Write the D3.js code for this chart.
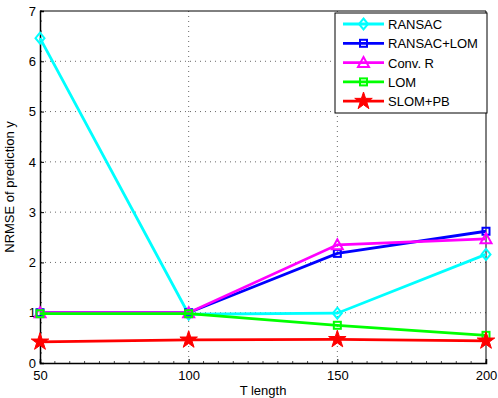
<!DOCTYPE html>
<html>
<head>
<meta charset="utf-8">
<script src="https://cdn.jsdelivr.net/npm/d3@7"></script>
<style>
  body { margin: 0; background: #fff; }
  text { font-family: "Liberation Sans", Arial, sans-serif; }
</style>
</head>
<body>
<svg id="chart"></svg>
<script>
let tLength = [50, 100, 150, 200];
let ransac = [6.46, 0.97, 0.99, 2.16];
let ransacLom = [1.0, 1.0, 2.18, 2.62];
let convR = [1.0, 1.0, 2.35, 2.47];
let lom = [0.98, 0.98, 0.75, 0.55];
let slomPb = [0.42, 0.46, 0.47, 0.44];
let xTicks = [50, 100, 150, 200];
let yTicks = [0, 1, 2, 3, 4, 5, 6, 7];

let series = [
  { name: "RANSAC", values: ransac, color: "#00ffff", marker: "diamond" },
  { name: "RANSAC+LOM", values: ransacLom, color: "#0000ff", marker: "square" },
  { name: "Conv. R", values: convR, color: "#ff00ff", marker: "triangle" },
  { name: "LOM", values: lom, color: "#00ff00", marker: "square" },
  { name: "SLOM+PB", values: slomPb, color: "#ff0000", marker: "star" }
];

let svg = d3.select("#chart"),
  margin = { top: 11, right: 12, bottom: 35, left: 40 },
  width = 498 - margin.left - margin.right,
  height = 398 - margin.top - margin.bottom;

svg.attr("width", 498).attr("height", 398);

let xScale = d3.scaleLinear().domain([50, 200]).range([0, width]),
  yScale = d3.scaleLinear().domain([0, 7]).range([height, 0]);

let g = svg.append("g").attr("transform", "translate(" + margin.left + "," + margin.top + ")");

// grid
g.selectAll(".gx")
  .data(xTicks.slice(1, -1))
  .enter()
  .append("line")
  .attr("x1", (d) => xScale(d))
  .attr("x2", (d) => xScale(d))
  .attr("y1", 0)
  .attr("y2", height)
  .attr("stroke", "#444")
  .attr("stroke-width", 0.8)
  .attr("stroke-dasharray", "1,4");

g.selectAll(".gy")
  .data(yTicks.slice(1, -1))
  .enter()
  .append("line")
  .attr("x1", 0)
  .attr("x2", width)
  .attr("y1", (d) => yScale(d))
  .attr("y2", (d) => yScale(d))
  .attr("stroke", "#444")
  .attr("stroke-width", 0.8)
  .attr("stroke-dasharray", "1,4");

// minor ticks
let yMinor = d3.range(0, 7.001, 0.2);
g.selectAll(".my")
  .data(yMinor)
  .enter()
  .append("line")
  .attr("x1", 0)
  .attr("x2", 2)
  .attr("y1", (d) => yScale(d))
  .attr("y2", (d) => yScale(d))
  .attr("stroke", "#000")
  .attr("stroke-width", 0.7);

let xMinor = d3.range(50, 200.001, 5);
g.selectAll(".mx")
  .data(xMinor)
  .enter()
  .append("line")
  .attr("x1", (d) => xScale(d))
  .attr("x2", (d) => xScale(d))
  .attr("y1", height)
  .attr("y2", height - 2)
  .attr("stroke", "#000")
  .attr("stroke-width", 0.7);

// axes
g.append("g")
  .attr("transform", "translate(0," + height + ")")
  .call(d3.axisBottom(xScale).tickValues(xTicks).tickFormat(d3.format("d")).tickSize(-4).tickPadding(8))
  .call((a) => a.select(".domain").attr("stroke-width", 1.5))
  .call((a) => a.selectAll("text").attr("font-size", "13px").attr("fill", "#000"))
  .append("text")
  .attr("x", width / 2)
  .attr("y", 32)
  .attr("text-anchor", "middle")
  .attr("fill", "black")
  .attr("font-size", "13px")
  .text("T length");

g.append("g")
  .call(d3.axisLeft(yScale).tickValues(yTicks).tickFormat(d3.format("d")).tickSize(-4).tickPadding(4))
  .call((a) => a.select(".domain").attr("stroke-width", 1.5))
  .call((a) => a.selectAll("text").attr("font-size", "13px").attr("fill", "#000"))
  .append("text")
  .attr("transform", "rotate(-90)")
  .attr("x", -height / 2)
  .attr("y", -26)
  .attr("text-anchor", "middle")
  .attr("fill", "black")
  .attr("font-size", "13px")
  .text("NRMSE of prediction y");

// top and right border
g.append("path")
  .attr("d", "M0,0H" + width + "V" + height)
  .attr("fill", "none")
  .attr("stroke", "#000")
  .attr("stroke-width", 1);

let line = d3
  .line()
  .x((d, i) => xScale(tLength[i]))
  .y((d) => yScale(d));

function drawMarker(sel, type, color) {
  if (type === "diamond") {
    sel.append("path").attr("d", "M0,-5.5L4.5,0L0,5.5L-4.5,0Z").attr("fill", "none").attr("stroke", color).attr("stroke-width", 2);
  } else if (type === "square") {
    sel.append("rect").attr("x", -3.5).attr("y", -3.5).attr("width", 7).attr("height", 7)
      .attr("fill", "none").attr("stroke", color).attr("stroke-width", 2);
  } else if (type === "triangle") {
    sel.append("path").attr("d", "M0,-5.5L5.5,4.5L-5.5,4.5Z").attr("fill", "none").attr("stroke", color).attr("stroke-width", 2);
  } else if (type === "star") {
    sel.append("path").attr("d", d3.symbol(d3.symbolStar, 95)()).attr("fill", color).attr("stroke", color).attr("stroke-width", 1);
  }
}

series.forEach((s) => {
  g.append("path")
    .datum(s.values)
    .attr("d", line)
    .attr("fill", "none")
    .attr("stroke", s.color)
    .attr("stroke-width", 2.8);

  s.values.forEach((v, i) => {
    let m = g.append("g").attr("transform", "translate(" + xScale(tLength[i]) + "," + yScale(v) + ")");
    drawMarker(m, s.marker, s.color);
  });
});

// legend
let lg = svg.append("g").attr("transform", "translate(335,13)");
lg.append("rect")
  .attr("width", 152)
  .attr("height", 100)
  .attr("fill", "#fff")
  .attr("stroke", "#000")
  .attr("stroke-width", 1);

series.forEach((s, i) => {
  let row = lg.append("g").attr("transform", "translate(0," + (11 + i * 19.3) + ")");
  row.append("line")
    .attr("x1", 8)
    .attr("x2", 49)
    .attr("stroke", s.color)
    .attr("stroke-width", 2.8);
  let m = row.append("g").attr("transform", "translate(28.5,0)");
  drawMarker(m, s.marker, s.color);
  row.append("text")
    .attr("x", 53)
    .attr("y", 5)
    .attr("font-size", "13px")
    .attr("fill", "#000")
    .text(s.name);
});
</script>
</body>
</html>
